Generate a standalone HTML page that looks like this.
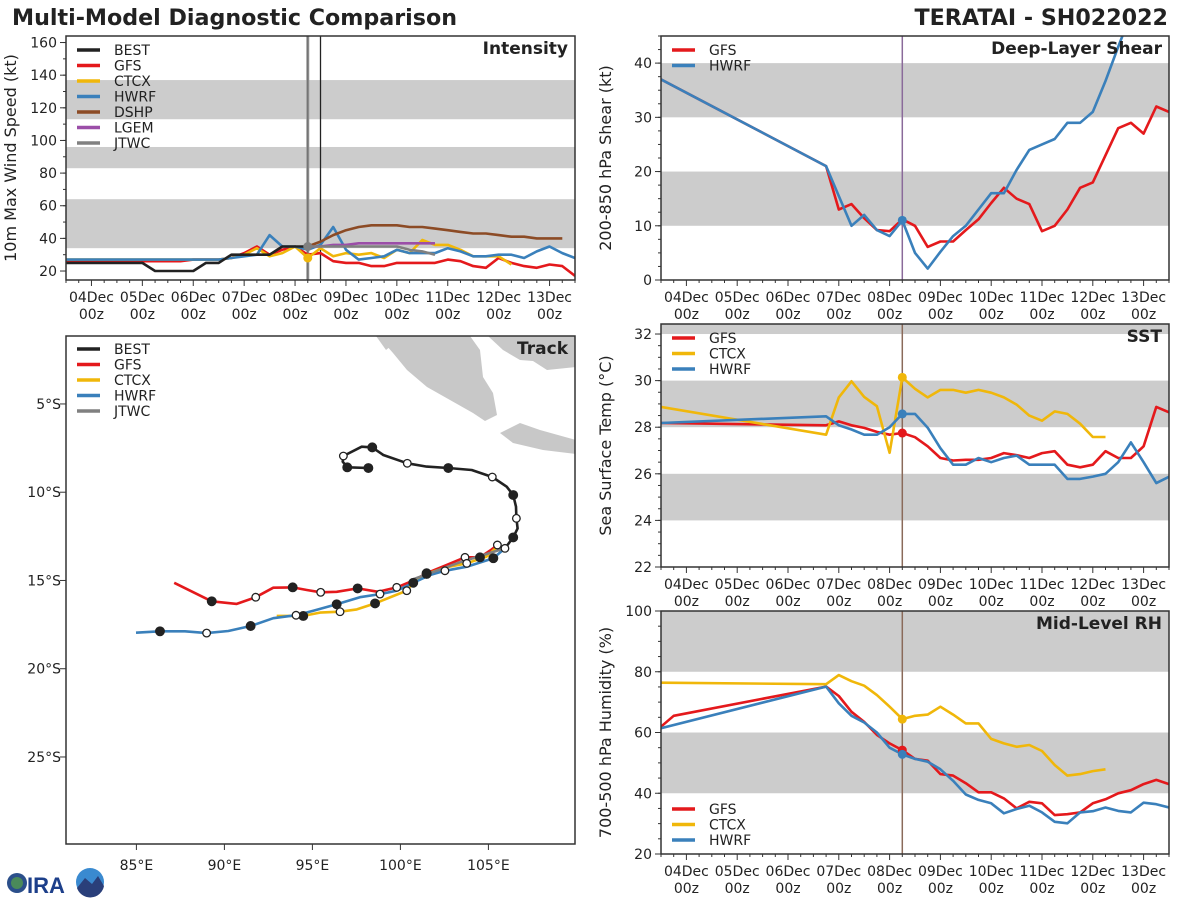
<!DOCTYPE html>
<html><head><meta charset="utf-8"><style>
html,body{margin:0;padding:0;background:#fff;}
svg{display:block;font-family:"DejaVu Sans","Liberation Sans",sans-serif;}
</style></head><body>
<svg id="chart" width="1200" height="900" viewBox="0 0 1200 900" xmlns="http://www.w3.org/2000/svg">
<rect width="1200" height="900" fill="#fff"/>
<text x="12" y="25" font-size="22.2" font-weight="bold" fill="#222">Multi-Model Diagnostic Comparison</text>
<text x="1168" y="25" font-size="22.2" font-weight="bold" fill="#222" text-anchor="end">TERATAI - SH022022</text>
<g id="logo">
<circle cx="17" cy="883" r="10" fill="#2b4f8a"/><circle cx="17" cy="883" r="6" fill="#4a8a5a"/>
<text x="27" y="893" font-size="22" font-weight="bold" fill="#1d3f8a" font-family="Liberation Sans,sans-serif">IRA</text>
<circle cx="90" cy="882" r="14" fill="#3a8ad0"/><path d="M77 888 L85 878 L92 884 L98 876 L104 886 A14 14 0 0 1 77 888Z" fill="#2a3f7a"/>
</g>
</svg>
<script>
// ---------- DATA ----------
const dayLabels = ["04Dec","05Dec","06Dec","07Dec","08Dec","09Dec","10Dec","11Dec","12Dec","13Dec"];
const initHour = 102;
// Intensity (kt)
const bestT = [-12,-6,0,6,12,18,24,30,36,42,48,54,60,66,72,78,84,90,96,102];
const bestV = [25,25,25,25,25,25,25,20,20,20,20,25,25,30,30,30,30,35,35,35];
const gfsIT = [-12,-6,0,6,12,18,24,30,36,42,48,54,60,66,72,78,84,90,96,102,108,114,120,126,132,138,144,150,156,162,168,174,180,186,192,198,204,210,216,222,228];
const gfsIV = [26,26,26,26,26,26,26,26,26,26,27,27,27,28,31,35,30,33,35,30,31,26,25,25,23,23,25,25,25,25,27,26,23,22,28,25,23,22,24,23,17];
const ctcxIT = [-12,-6,0,6,12,18,24,30,36,42,48,54,60,66,72,78,84,90,96,102,108,114,120,126,132,138,144,150,156,162,168,174,180,186,192,198];
const ctcxIV = [27,27,27,27,27,27,27,27,27,27,27,27,27,28,30,34,29,31,35,28,34,29,31,30,31,28,33,31,39,36,36,33,29,29,29,24];
const hwrfIT = [-12,-6,0,6,12,18,24,30,36,42,48,54,60,66,72,78,84,90,96,102,108,114,120,126,132,138,144,150,156,162,168,174,180,186,192,198,204,210,216,222,228];
const hwrfIV = [27,27,27,27,27,27,27,27,27,27,27,27,27,28,29,30,42,35,35,33,36,47,33,27,28,29,33,31,31,31,34,32,29,29,30,30,28,32,35,31,28];
const dshpT = [102,108,114,120,126,132,138,144,150,156,162,168,174,180,186,192,198,204,210,216,222];
const dshpV = [35,38,42,45,47,48,48,48,47,47,46,45,44,43,43,42,41,41,40,40,40];
const lgemT = [102,108,114,120,126,132,138,144,150,156,162];
const lgemV = [35,35,36,36,37,37,37,37,37,37,37];
const jtwcT = [102,108,114,120,126,132,138,144,150,156,162];
const jtwcV = [35,35,35,35,35,35,35,35,33,32,30];
// Shear (kt)
const shearGfsT = [-12,66,72,78,84,90,96,102,108,114,120,126,132,138,144,150,156,162,168,174,180,186,192,198,204,210,216,222,228];
const shearGfsV = [37,21,13,14,11.4,9.2,9,11.2,10,6.1,7.1,7.1,9.2,11.2,14.2,17,15,14,9,10,13,17,18,23,28,29,27,32,31];
const shearHwrfT = [-12,66,72,78,84,90,96,102,108,114,120,126,132,138,144,150,156,162,168,174,180,186,192,198,204,210];
const shearHwrfV = [37,21,15.5,10,12,9.2,8.1,11,5,2.1,5.2,8.1,10,13,16,16,20.3,24,25,26,29,29,31,36.7,43,49];
// SST (C)
const sstGfsT = [-12,66,72,78,84,90,96,102,108,114,120,126,132,138,144,150,156,162,168,174,180,186,192,198,204,210,216,222,228];
const sstGfsV = [28.18,28.08,28.25,28.08,27.97,27.8,27.68,27.75,27.57,27.18,26.68,26.57,26.6,26.6,26.68,26.89,26.8,26.68,26.89,26.97,26.39,26.28,26.39,26.97,26.68,26.68,27.18,28.87,28.64];
const sstCtcxT = [-12,66,72,78,84,90,96,102,108,114,120,126,132,138,144,150,156,162,168,174,180,186,192,198];
const sstCtcxV = [28.87,27.68,29.28,29.97,29.3,28.9,26.9,30.14,29.65,29.28,29.6,29.6,29.48,29.6,29.48,29.28,28.97,28.5,28.28,28.68,28.57,28.15,27.58,27.58];
const sstHwrfT = [-12,66,72,78,84,90,96,102,108,114,120,126,132,138,144,150,156,162,168,174,180,186,192,198,204,210,216,222,228];
const sstHwrfV = [28.18,28.47,28.08,27.9,27.68,27.68,28,28.57,28.57,27.98,27.1,26.39,26.39,26.68,26.5,26.68,26.78,26.39,26.39,26.39,25.78,25.78,25.88,26,26.5,27.35,26.5,25.6,25.87];
// RH (%)
const rhGfsT = [-12,-6,66,72,78,84,90,96,102,108,114,120,126,132,138,144,150,156,162,168,174,180,186,192,198,204,210,216,222,228];
const rhGfsV = [61.9,65.5,75.1,72,66.8,63.5,59.2,56.4,54.2,51.3,50.7,46.3,45.8,43.3,40.3,40.3,38.3,35,37.2,36.7,32.8,33.1,33.7,36.7,38,40,41,43,44.4,43];
const rhCtcxT = [-12,66,72,78,84,90,96,102,108,114,120,126,132,138,144,150,156,162,168,174,180,186,192,198];
const rhCtcxV = [76.4,75.9,78.9,76.9,75.4,72.3,68.5,64.4,65.5,65.9,68.5,65.9,63,63,57.9,56.4,55.3,55.9,53.9,49.3,45.8,46.3,47.3,47.9];
const rhHwrfT = [-12,66,72,78,84,90,96,102,108,114,120,126,132,138,144,150,156,162,168,174,180,186,192,198,204,210,216,222,228];
const rhHwrfV = [61.4,75.1,69.6,65.5,63.3,60,55,52.8,51.3,50.4,47.9,44.1,39.6,37.8,36.7,33.4,34.8,35.9,33.7,30.6,30.1,33.7,34.1,35.3,34.2,33.7,36.9,36.4,35.3];
// Track (lon E, lat)
const bestLon = [98.18,96.98,96.72,96.76,97.80,98.40,99.03,100.39,101.49,102.72,104.05,105.22,106.04,106.41,106.57,106.59,106.66,106.41,105.94];
const bestLat = [-8.63,-8.59,-8.27,-7.95,-7.42,-7.46,-7.89,-8.36,-8.55,-8.63,-8.74,-9.14,-9.69,-10.16,-10.82,-11.48,-12.05,-12.56,-13.18];
const bestMk = [1,1,0,2,0,1,0,2,0,1,0,2,0,1,0,2,0,1,0];
const gfsLon = [87.15,89.28,90.70,91.78,92.78,93.88,94.68,95.47,96.38,97.57,98.74,99.79,100.73,101.49,102.63,103.67,104.52,105.09,105.51];
const gfsLat = [-15.13,-16.18,-16.33,-15.95,-15.41,-15.39,-15.54,-15.67,-15.64,-15.45,-15.64,-15.39,-15.01,-14.59,-14.12,-13.69,-13.69,-13.31,-12.99];
const gfsMk = [0,1,0,2,0,1,0,2,0,1,0,2,0,1,0,2,1,0,2];
const ctcxLon = [92.97,94.48,95.43,96.57,97.52,98.56,99.60,100.36,100.83,101.49,102.63,103.77,104.90,105.51];
const ctcxLat = [-17.01,-17.01,-16.82,-16.77,-16.64,-16.30,-15.88,-15.58,-15.01,-14.63,-14.25,-14.03,-13.65,-13.08];
const ctcxMk = [0,1,0,2,0,1,0,2,0,1,0,2,0,0];
const hwrfLon = [84.98,86.34,87.76,88.99,90.22,91.49,92.78,94.07,95.05,96.38,97.70,98.84,99.79,100.73,101.68,102.53,103.77,105.28,105.94];
const hwrfLat = [-17.96,-17.88,-17.88,-17.98,-17.86,-17.58,-17.14,-16.97,-16.71,-16.35,-15.95,-15.77,-15.58,-15.13,-14.69,-14.45,-14.22,-13.74,-13.18];
const hwrfMk = [0,1,0,2,0,1,0,2,0,1,0,2,0,1,0,2,0,1,2];
const jtwcLon = [100.73,103.3,105.94];
const jtwcLat = [-14.93,-14.0,-13.18];
const lonTicks = [85,90,95,100,105];
const latTicks = [-5,-10,-15,-20,-25];

// ---------- DRAWING ----------
const NS="http://www.w3.org/2000/svg";
const svg=document.getElementById('chart');
const logo=document.getElementById('logo');
function el(tag,attrs,parent){const e=document.createElementNS(NS,tag);for(const k in attrs)e.setAttribute(k,attrs[k]);if(parent)parent.appendChild(e);else svg.insertBefore(e,logo);return e;}
const C={BEST:"#222222",GFS:"#e4191c",CTCX:"#f0b70a",HWRF:"#3a80bb",DSHP:"#8c4b25",LGEM:"#9b4ea8",JTWC:"#808080"};
const TX0=-12,TX1=228;

function timePanel(name,L,R,T,B,y0,y1,bands,yt,yminor,ytitle,title){
  const g=el('g',{});
  
  
  const x=h=>L+(h-TX0)/(TX1-TX0)*(R-L);
  const y=v=>B-(v-y0)/(y1-y0)*(B-T);
  const clip=el('clipPath',{id:'clip-'+name},g);
  el('rect',{x:L,y:T,width:R-L,height:B-T},clip);
  bands.forEach(b=>{const top=Math.min(b[1],y1);const r=el('rect',{x:L,y:y(top),width:R-L,height:y(b[0])-y(top),fill:"#cccccc"},g);
    });
  for(let h=TX0;h<=TX1;h+=6){const maj=(h%24===0);el('line',{x1:x(h),x2:x(h),y1:B,y2:B+(maj?6:3),stroke:"#333","stroke-width":1},g);}
  dayLabels.forEach((d,i)=>{const h=i*24;
    const t=el('text',{x:x(h),y:B+22,"font-size":14,fill:"#222","text-anchor":"middle"},g);t.textContent=d;
    
    const t2=el('text',{x:x(h),y:B+39,"font-size":14,fill:"#222","text-anchor":"middle"},g);t2.textContent="00z";
    });
  for(let v=Math.ceil(y0/yminor)*yminor;v<=y1+1e-9;v+=yminor){el('line',{x1:L-3,x2:L,y1:y(v),y2:y(v),stroke:"#333","stroke-width":1},g);}
  yt.forEach(v=>{el('line',{x1:L-6,x2:L,y1:y(v),y2:y(v),stroke:"#333","stroke-width":1},g);
    const t=el('text',{x:L-9,y:y(v)+5,"font-size":14,fill:"#222","text-anchor":"end"},g);t.textContent=v;
    });
  const yt2=el('text',{transform:`translate(${L-50},${(T+B)/2}) rotate(-90)`,"font-size":16,fill:"#222","text-anchor":"middle"},g);yt2.textContent=ytitle;
  
  const plot=el('g',{"clip-path":`url(#clip-${name})`},g);
  const tt=el('text',{x:R-7,y:T+18,"font-size":17,"font-weight":"bold",fill:"#222","text-anchor":"end"},g);tt.textContent=title;
  
  return {g,plot,x,y,L,R,T,B};
}
function series(p,T,V,color,nm,w){
  const pts=T.map((t,i)=>p.x(t).toFixed(1)+","+p.y(V[i]).toFixed(1)).join(" ");
  const pl=el('polyline',{points:pts,fill:"none",stroke:color,"stroke-width":w||2.6,"stroke-linejoin":"round"},p.plot);
  
  
}
function dot(p,T,V,color,nm){
  const i=T.indexOf(initHour);if(i<0)return;
  const c=el('circle',{cx:p.x(initHour),cy:p.y(V[i]),r:4.5,fill:color},p.plot);
  
  
}
function vline(p,h,color,w){const l=el('line',{x1:p.x(h),x2:p.x(h),y1:p.T,y2:p.B,stroke:color,"stroke-width":w},p.plot);
  }
function frame(p){const f=el('rect',{x:p.L,y:p.T,width:p.R-p.L,height:p.B-p.T,fill:"none",stroke:"#333","stroke-width":1.5},p.g);
  }
function legend(p,x0,y0,names,dy){names.forEach((n,i)=>{
  const l=el('line',{x1:x0,x2:x0+23,y1:y0+i*dy,y2:y0+i*dy,stroke:C[n],"stroke-width":3.5},p.g);
  
  const t=el('text',{x:x0+37,y:y0+i*dy+5,"font-size":14,fill:"#222"},p.g);t.textContent=n;
  });}

// Intensity
const pi=timePanel('intensity',66,575,36,280,14.5,164,[[34,64],[83,96],[113,137]],[20,40,60,80,100,120,140,160],10,"10m Max Wind Speed (kt)","Intensity");
vline(pi,102,"#999",3);vline(pi,102,"#666",1);vline(pi,108,"#222",1.3);
series(pi,gfsIT,gfsIV,C.GFS,'gfs-intensity-line');
series(pi,ctcxIT,ctcxIV,C.CTCX,'ctcx-intensity-line');
series(pi,hwrfIT,hwrfIV,C.HWRF,'hwrf-intensity-line');
series(pi,bestT,bestV,C.BEST,'best-intensity-line');
series(pi,dshpT,dshpV,C.DSHP,'dshp-intensity-line');
series(pi,lgemT,lgemV,C.LGEM,'lgem-intensity-line');
series(pi,jtwcT,jtwcV,C.JTWC,'jtwc-intensity-line');
dot(pi,ctcxIT,ctcxIV,C.CTCX,'ctcx-init-dot');dot(pi,jtwcT,jtwcV,C.JTWC,'jtwc-init-dot');
frame(pi);legend(pi,77,50,["BEST","GFS","CTCX","HWRF","DSHP","LGEM","JTWC"],15.5);

// Shear
const ps=timePanel('shear',661,1169,36,280,0,45,[[10,20],[30,40]],[0,10,20,30,40],2.5,"200-850 hPa Shear (kt)","Deep-Layer Shear");
vline(ps,102,"#8a6a9a",1.5);
series(ps,shearGfsT,shearGfsV,C.GFS,'gfs-shear-line');
series(ps,shearHwrfT,shearHwrfV,C.HWRF,'hwrf-shear-line');
dot(ps,shearHwrfT,shearHwrfV,C.HWRF,'hwrf-shear-dot');
frame(ps);legend(ps,672,50,["GFS","HWRF"],15.5);

// SST
const pt=timePanel('sst',661,1169,324,567,22,32.43,[[24,26],[28,30],[32,34]],[22,24,26,28,30,32],0.5,"Sea Surface Temp (°C)","SST");
vline(pt,102,"#8a6a5a",1.5);
series(pt,sstGfsT,sstGfsV,C.GFS,'gfs-sst-line');
series(pt,sstCtcxT,sstCtcxV,C.CTCX,'ctcx-sst-line');
series(pt,sstHwrfT,sstHwrfV,C.HWRF,'hwrf-sst-line');
dot(pt,sstGfsT,sstGfsV,C.GFS,'gfs-sst-dot');dot(pt,sstCtcxT,sstCtcxV,C.CTCX,'ctcx-sst-dot');dot(pt,sstHwrfT,sstHwrfV,C.HWRF,'hwrf-sst-dot');
frame(pt);legend(pt,672,338,["GFS","CTCX","HWRF"],15.5);

// RH
const pr=timePanel('rh',661,1169,611,854,20,100,[[40,60],[80,100]],[20,40,60,80,100],5,"700-500 hPa Humidity (%)","Mid-Level RH");
vline(pr,102,"#8a6a5a",1.5);
series(pr,rhGfsT,rhGfsV,C.GFS,'gfs-rh-line');
series(pr,rhCtcxT,rhCtcxV,C.CTCX,'ctcx-rh-line');
series(pr,rhHwrfT,rhHwrfV,C.HWRF,'hwrf-rh-line');
dot(pr,rhCtcxT,rhCtcxV,C.CTCX,'ctcx-rh-dot');dot(pr,rhGfsT,rhGfsV,C.GFS,'gfs-rh-dot');dot(pr,rhHwrfT,rhHwrfV,C.HWRF,'hwrf-rh-dot');
frame(pr);legend(pr,672,809,["GFS","CTCX","HWRF"],15.5);

// Track
(function(){
  const L=66,R=575,T=336,B=844,lon0=81,lon1=109.92,lat0=-1.15,lat1=-29.93;
  const g=el('g',{});
  
  
  const x=lo=>L+(lo-lon0)/(lon1-lon0)*(R-L);
  const y=la=>T+(la-lat0)/(lat1-lat0)*(B-T);
  const clip=el('clipPath',{id:'clip-track'},g);el('rect',{x:L,y:T,width:R-L,height:B-T},clip);
  const plot=el('g',{"clip-path":"url(#clip-track)"},g);
  const land=[
   "378,336 393,353 407,370 427,387 450,400 473,413 485,421 497,415 493,393 483,377 480,350 470,336",
   "488,336 503,350 520,360 533,361 547,370 576,367 576,336",
   "500,433 520,423 540,430 576,440 576,454 543,450 513,443",
   "376,336 386,350 392,345 388,336"];
  land.forEach(s=>{const p=el('polygon',{points:s,fill:"#c8c8c8"},plot);});
  function trk(LO,LA,MK,color,nm){
    const pl=el('polyline',{points:LO.map((o,i)=>x(o).toFixed(1)+","+y(LA[i]).toFixed(1)).join(" "),fill:"none",stroke:color,"stroke-width":2.6,"stroke-linejoin":"round"},plot);
    
    
    return ()=>{ if(!MK)return; MK.forEach((m,i)=>{if(!m)return;
      const c=el('circle',{cx:x(LO[i]),cy:y(LA[i]),r:m===1?4.3:3.8,fill:m===1?"#222":"#fff",stroke:"#222","stroke-width":1.3},plot);
      
      });};
  }
  const mk=[trk(gfsLon,gfsLat,gfsMk,C.GFS,'gfs-track'),trk(ctcxLon,ctcxLat,ctcxMk,C.CTCX,'ctcx-track'),trk(hwrfLon,hwrfLat,hwrfMk,C.HWRF,'hwrf-track'),trk(bestLon,bestLat,bestMk,C.BEST,'best-track'),trk(jtwcLon,jtwcLat,null,C.JTWC,'jtwc-track')];
  mk.forEach(f=>f());
  lonTicks.forEach(lo=>{el('line',{x1:x(lo),x2:x(lo),y1:B,y2:B+6,stroke:"#333"},g);
    const t=el('text',{x:x(lo),y:B+26,"font-size":14,fill:"#222","text-anchor":"middle"},g);t.textContent=lo+"°E";
    });
  latTicks.forEach(la=>{el('line',{x1:L-6,x2:L,y1:y(la),y2:y(la),stroke:"#333"},g);
    const t=el('text',{x:L-5,y:y(la)+5,"font-size":14,fill:"#222","text-anchor":"end"},g);t.textContent=(-la)+"°S";
    });
  const f=el('rect',{x:L,y:T,width:R-L,height:B-T,fill:"none",stroke:"#333","stroke-width":1.5},g);
  
  const tt=el('text',{x:R-7,y:T+18,"font-size":17,"font-weight":"bold",fill:"#222","text-anchor":"end"},g);tt.textContent="Track";
  
  ["BEST","GFS","CTCX","HWRF","JTWC"].forEach((n,i)=>{const yy=349+i*15.5;
    const l=el('line',{x1:77,x2:100,y1:yy,y2:yy,stroke:C[n],"stroke-width":3.5},g);
    
    const t=el('text',{x:114,y:yy+5,"font-size":14,fill:"#222"},g);t.textContent=n;
    });
})();
</script>
</body></html>
